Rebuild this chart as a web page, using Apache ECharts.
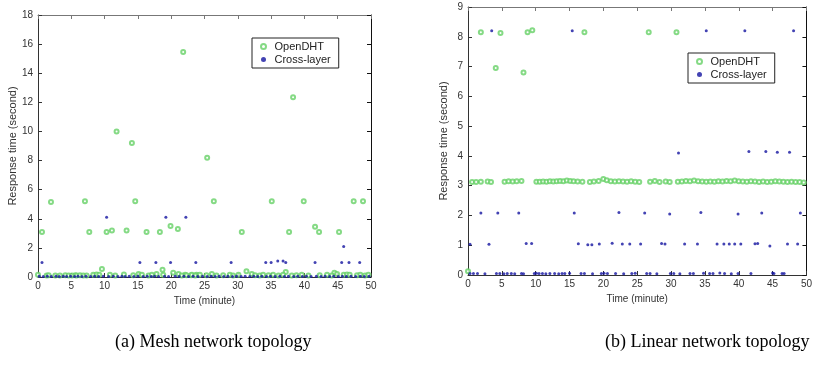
<!DOCTYPE html>
<html><head><meta charset="utf-8">
<script src="https://cdn.jsdelivr.net/npm/echarts@6/dist/echarts.min.js"></script>
<style>html,body{margin:0;padding:0;background:#fff}#c{width:815px;height:369px}</style>
</head><body><div id="c"></div>
<script>
// ---------- (a) Mesh network topology ----------
const meshOpenDHT = [
  [0.6,3.1],[1.95,5.15],[7.05,5.2],[7.7,3.1],[9.6,0.55],[10.3,3.1],[11.1,3.2],[11.8,10.0],
  [13.3,3.2],[14.1,9.2],[14.6,5.2],[16.3,3.1],[18.3,3.1],[18.7,0.5],[19.9,3.5],[21.0,3.3],
  [20.3,0.3],[21.8,15.45],[25.4,8.2],[26.4,5.2],[30.6,3.1],[31.3,0.4],[35.1,5.2],[37.2,0.35],
  [37.7,3.1],[38.3,12.35],[39.9,5.2],[41.6,3.45],[42.2,3.1],[44.5,0.3],[45.2,3.1],[47.4,5.2],[48.8,5.2],
  [0.0,0.15],[1.3,0.1],[1.6,0.12],[2.6,0.1],[3.3,0.1],[4.1,0.12],[4.6,0.1],[5.1,0.1],[5.6,0.12],
  [5.8,0.1],[6.3,0.12],[6.8,0.1],[7.3,0.1],[8.3,0.15],[8.8,0.18],[9.2,0.15],[10.8,0.15],[11.6,0.1],
  [12.9,0.18],[14.3,0.12],[15.1,0.2],[15.6,0.15],[16.6,0.1],[17.1,0.15],[17.8,0.2],[18.8,0.15],
  [21.1,0.2],[22.1,0.15],[23.0,0.12],[23.8,0.15],[21.6,0.1],[22.3,0.12],[23.1,0.15],[23.6,0.1],
  [24.3,0.15],[25.3,0.12],[26.1,0.2],[26.8,0.1],[27.8,0.12],[28.8,0.15],[29.3,0.1],[30.1,0.15],
  [32.1,0.2],[32.6,0.12],[33.3,0.1],[33.8,0.15],[34.6,0.12],[35.3,0.15],[36.1,0.1],[36.8,0.15],
  [38.1,0.1],[38.8,0.12],[39.6,0.15],[40.6,0.1],[42.3,0.12],[43.4,0.15],[44.1,0.1],[44.9,0.2],
  [45.9,0.15],[46.4,0.18],[46.8,0.15],[47.9,0.12],[48.4,0.15],[49.1,0.1],[49.6,0.15]
];
const meshCrossLayer = [
  [0.6,1.0],[10.3,4.1],[15.3,1.0],[17.7,1.0],[19.2,4.1],[19.9,1.0],[22.2,4.1],[23.7,1.0],
  [29.0,1.0],[34.2,1.0],[35.0,1.0],[36.0,1.1],[36.8,1.1],[37.2,1.0],[41.6,1.0],[45.9,2.1],
  [45.6,1.0],[46.7,1.0],[48.3,1.0],
  [0.2,0.05],[0.8,0.03],[1.4,0.05],[2.0,0.04],[2.7,0.05],[3.2,0.03],[3.8,0.05],[4.3,0.04],
  [4.9,0.05],[5.5,0.03],[6.0,0.05],[6.6,0.04],[7.2,0.05],[7.9,0.03],[8.5,0.05],[9.1,0.04],
  [9.8,0.05],[10.6,0.03],[11.3,0.05],[12.0,0.04],[12.6,0.05],[13.1,0.03],[13.7,0.05],[14.4,0.04],
  [15.0,0.05],[15.8,0.03],[16.4,0.05],[17.0,0.04],[17.5,0.05],[18.1,0.03],[19.0,0.05],[19.6,0.04],
  [20.6,0.05],[21.2,0.03],[21.9,0.05],[22.6,0.04],[23.3,0.05],[24.0,0.03],[24.7,0.05],[25.4,0.04],
  [26.0,0.05],[26.6,0.03],[27.2,0.05],[27.9,0.04],[28.5,0.05],[29.2,0.03],[29.8,0.05],[30.5,0.04],
  [31.1,0.05],[31.8,0.03],[32.4,0.05],[33.0,0.04],[33.6,0.05],[34.3,0.03],[34.9,0.05],[35.6,0.04],
  [36.3,0.05],[37.0,0.03],[37.6,0.05],[38.4,0.04],[39.0,0.05],[39.7,0.03],[40.3,0.05],[41.0,0.04],
  [41.8,0.05],[42.5,0.03],[43.1,0.05],[43.8,0.04],[44.4,0.05],[45.1,0.03],[45.7,0.05],[46.3,0.04],
  [47.0,0.05],[47.7,0.03],[48.4,0.05],[49.0,0.04],[49.7,0.05]
];
// ---------- (b) Linear network topology ----------
const linOpenDHT = [
  [1.9,8.15],[4.8,8.13],[8.8,8.15],[9.5,8.22],[17.2,8.15],[26.7,8.15],[30.8,8.15],
  [4.1,6.95],[8.2,6.8],[0.0,0.13],
  [0.6,3.12],[1.2,3.12],[1.9,3.13],[2.9,3.14],[3.4,3.12],[5.4,3.13],[6.0,3.15],[6.6,3.14],
  [7.2,3.15],[7.9,3.16],[10.1,3.13],[10.6,3.13],[11.1,3.14],[11.6,3.13],[12.1,3.15],[12.6,3.14],
  [13.1,3.15],[13.6,3.16],[14.1,3.15],[14.6,3.17],[15.1,3.16],[15.6,3.15],[16.2,3.14],[16.9,3.13],
  [18.0,3.12],[18.6,3.14],[19.3,3.16],[20.0,3.22],[20.5,3.18],[21.1,3.15],[21.7,3.14],[22.3,3.15],
  [22.9,3.14],[23.5,3.13],[24.1,3.15],[24.7,3.13],[25.3,3.12],[26.9,3.13],[27.6,3.16],[28.3,3.12],
  [29.2,3.14],[29.8,3.12],[31.0,3.13],[31.6,3.14],[32.2,3.16],[32.8,3.15],[33.4,3.17],[34.0,3.15],
  [34.6,3.14],[35.2,3.13],[35.8,3.14],[36.4,3.13],[37.0,3.15],[37.6,3.14],[38.2,3.16],[38.8,3.15],
  [39.4,3.17],[40.0,3.15],[40.6,3.14],[41.2,3.13],[41.8,3.15],[42.4,3.14],[43.0,3.12],[43.6,3.14],
  [44.2,3.12],[44.8,3.13],[45.4,3.15],[46.0,3.14],[46.6,3.13],[47.2,3.12],[47.8,3.13],[48.4,3.12],
  [49.0,3.12],[49.6,3.11]
];
const linCrossLayer = [
  [3.5,8.2],[15.4,8.2],[35.2,8.2],[40.9,8.2],[48.1,8.2],
  [31.1,4.1],[41.5,4.15],[44.0,4.15],[45.7,4.12],[47.5,4.12],
  [1.9,2.08],[4.4,2.08],[7.5,2.08],[15.7,2.08],[22.3,2.1],[26.1,2.08],[29.8,2.05],[34.4,2.1],
  [39.9,2.05],[43.4,2.08],[49.1,2.08],
  [0.3,1.03],[3.1,1.03],[8.6,1.06],[9.4,1.06],[16.3,1.05],[17.7,1.02],[18.3,1.02],[19.4,1.04],
  [21.3,1.07],[22.8,1.04],[23.9,1.04],[25.5,1.04],[28.6,1.06],[29.1,1.04],[32.0,1.04],[33.9,1.04],
  [36.8,1.04],[37.8,1.04],[38.6,1.04],[39.4,1.04],[40.3,1.04],[42.4,1.05],[42.8,1.06],[44.6,0.97],
  [47.2,1.04],[48.7,1.04],
  [0.3,0.05],[0.8,0.05],[1.4,0.05],[2.5,0.04],[4.2,0.05],[4.7,0.05],[5.3,0.04],[5.8,0.05],
  [6.4,0.05],[6.9,0.04],[7.9,0.05],[8.2,0.04],[9.8,0.05],[10.1,0.06],[10.5,0.05],[11.0,0.05],
  [11.5,0.04],[12.1,0.05],[12.8,0.05],[13.4,0.04],[13.9,0.05],[14.3,0.05],[15.0,0.06],[16.7,0.05],
  [17.2,0.05],[18.4,0.04],[19.7,0.05],[20.1,0.06],[20.6,0.05],[21.8,0.05],[23.0,0.04],[24.2,0.05],
  [24.7,0.06],[26.4,0.05],[26.9,0.05],[27.9,0.04],[29.9,0.05],[30.4,0.05],[31.3,0.04],[32.8,0.05],
  [33.3,0.05],[34.8,0.06],[35.7,0.05],[36.2,0.05],[37.2,0.07],[37.9,0.05],[38.9,0.04],[39.9,0.05],
  [41.8,0.05],[45.0,0.07],[45.2,0.05],[46.4,0.05],[46.7,0.05]
];
const xTicks = {min:0, max:50, interval:5};
const meshY = {min:0, max:18, interval:2};
const linY = {min:0, max:9, interval:1};
const seriesNames = ['OpenDHT','Cross-layer'];
const captions = ['(a) Mesh network topology','(b) Linear network topology'];

const green = '#66d166', blue = '#1414a0';
const FONT = 'Liberation Sans';
const axisCol = '#333';
function mainX(gi){ return {gridIndex:gi, type:'value', ...xTicks, position:'bottom',
  name:'Time (minute)', nameLocation:'middle', nameGap:16,
  nameTextStyle:{fontFamily:FONT,fontSize:10,color:'#333'},
  axisLine:{onZero:false,lineStyle:{color:axisCol}}, axisTick:{inside:true,length:4,lineStyle:{color:axisCol}},
  axisLabel:{fontFamily:FONT,fontSize:10,color:'#333',margin:4}, splitLine:{show:false}}; }
function topX(gi){ return {gridIndex:gi, type:'value', ...xTicks, position:'top',
  axisLine:{onZero:false,lineStyle:{color:'#777'}}, axisTick:{inside:true,length:4,lineStyle:{color:'#777'}},
  axisLabel:{show:false}, splitLine:{show:false}}; }
function mainY(gi,r){ return {gridIndex:gi, type:'value', ...r, position:'left',
  name:'Response time (second)', nameLocation:'middle', nameGap:19, nameRotate:90,
  nameTextStyle:{fontFamily:FONT,fontSize:11,color:'#333'},
  axisLine:{show:true,onZero:false,lineStyle:{color:axisCol}}, axisTick:{show:true,inside:true,length:4,lineStyle:{color:axisCol}},
  axisLabel:{fontFamily:FONT,fontSize:10,color:'#333',margin:5}, splitLine:{show:false}}; }
function rightY(gi,r){ return {gridIndex:gi, type:'value', ...r, position:'right',
  axisLine:{show:true,onZero:false,lineStyle:{color:'#111'}}, axisTick:{show:true,inside:true,length:4,lineStyle:{color:'#111'}},
  axisLabel:{show:false}, splitLine:{show:false}}; }
function dht(name, xi, yi, data){ return {name, type:'scatter', xAxisIndex:xi, yAxisIndex:yi, data,
  symbol:'emptyCircle', symbolSize:4, itemStyle:{color:green, borderWidth:0.9}, silent:true}; }
function cl(name, xi, yi, data){ return {name, type:'scatter', xAxisIndex:xi, yAxisIndex:yi, data,
  symbol:'circle', symbolSize:3, itemStyle:{color:blue}, silent:true}; }
function legend(left, top){ return {left, top, orient:'vertical', data:seriesNames,
  backgroundColor:'#fff', borderColor:'#222', borderWidth:1, padding:[3,8,3,8], itemGap:2,
  itemWidth:12, itemHeight:5, textStyle:{fontFamily:FONT,fontSize:11,color:'#222'}}; }

const chart = echarts.init(document.getElementById('c'), null, {renderer:'canvas'});
chart.setOption({
  animation:false, backgroundColor:'#fff',
  grid:[{left:38, top:15, width:333, height:262}, {left:468, top:7, width:341, height:268}],
  xAxis:[mainX(0), topX(0), mainX(1), topX(1)],
  yAxis:[mainY(0,meshY), rightY(0,meshY), mainY(1,linY), rightY(1,linY)],
  legend:[legend(252,38), legend(688,53)],
  series:[
    dht(seriesNames[0],0,0,meshOpenDHT), cl(seriesNames[1],0,0,meshCrossLayer),
    dht(seriesNames[0],2,2,linOpenDHT), cl(seriesNames[1],2,2,linCrossLayer)
  ],
  graphic:[
    {type:'text', left:115, top:333, style:{text:captions[0], font:'18px "Liberation Serif"', fill:'#000'}},
    {type:'text', left:605, top:333, style:{text:captions[1], font:'18px "Liberation Serif"', fill:'#000'}}
  ]
});
</script></body></html>
